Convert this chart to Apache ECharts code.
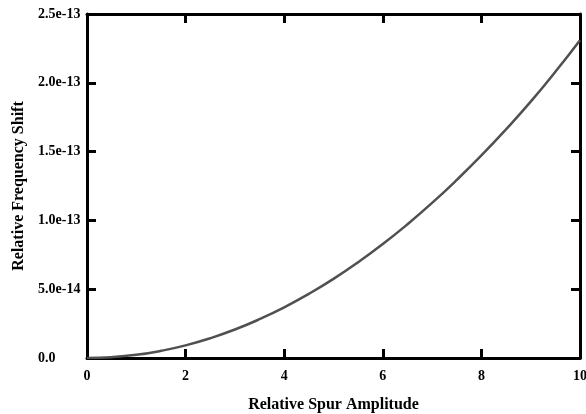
<!DOCTYPE html>
<html><head><meta charset="utf-8">
<script src="https://cdn.jsdelivr.net/npm/echarts@6/dist/echarts.min.js"></script>
<style>html,body{margin:0;padding:0;background:#fff}#c{width:586px;height:414px}</style>
</head><body><div id="c"></div>
<script>
var xValues = [0,0.5,1,1.5,2,2.5,3,3.5,4,4.5,5,5.5,6,6.5,7,7.5,8,8.5,9,9.5,10];
var yValues = [0,0.06e-14,0.23e-14,0.52e-14,0.92e-14,1.44e-14,2.07e-14,2.82e-14,3.68e-14,4.66e-14,5.75e-14,6.96e-14,8.28e-14,9.72e-14,11.27e-14,12.94e-14,14.72e-14,16.62e-14,18.63e-14,20.8e-14,23.1e-14];
var yTickLabels = {0:'0.0',5e-14:'5.0e-14',1e-13:'1.0e-13',1.5e-13:'1.5e-13',2e-13:'2.0e-13',2.5e-13:'2.5e-13'};
var xTitle = 'Relative Spur Amplitude';
var yTitle = 'Relative Frequency Shift';

var data = xValues.map(function(x,i){return [x,yValues[i]];});
var font = 'Liberation Serif';
function fmtY(v){
  var keys = Object.keys(yTickLabels);
  for (var i=0;i<keys.length;i++){ if (Math.abs(parseFloat(keys[i])-v) < 1e-17) return yTickLabels[keys[i]]; }
  return v.toExponential(1);
}
var axisLine = {show:true, onZero:false, lineStyle:{color:'#000', width:3}};
var tick = {show:true, inside:true, length:9, lineStyle:{color:'#000', width:3}};
var chart = echarts.init(document.getElementById('c'));
chart.setOption({
  animation:false,
  grid:{left:87, right:6, top:14, bottom:56, containLabel:false, outerBoundsMode:'none'},
  xAxis:[{
    type:'value', min:0, max:10, interval:2, position:'bottom',
    axisLine:axisLine, axisTick:tick, splitLine:{show:false},
    axisLabel:{color:'#000', fontFamily:font, fontWeight:'bold', fontSize:14, margin:11},
    name:xTitle, nameLocation:'middle', nameGap:39,
    nameTextStyle:{color:'#000', fontFamily:font, fontWeight:'bold', fontSize:16}
  },{
    type:'value', min:0, max:10, interval:2, position:'top',
    axisLine:axisLine, axisTick:tick, splitLine:{show:false}, axisLabel:{show:false}
  }],
  yAxis:[{
    type:'value', min:0, max:2.5e-13, interval:5e-14, position:'left',
    axisLine:axisLine, axisTick:tick, splitLine:{show:false},
    axisLabel:{color:'#000', fontFamily:font, fontWeight:'bold', fontSize:14, margin:49, align:'left', formatter:fmtY},
    name:yTitle, nameLocation:'middle', nameGap:60,
    nameTextStyle:{color:'#000', fontFamily:font, fontWeight:'bold', fontSize:16}
  },{
    type:'value', min:0, max:2.5e-13, interval:5e-14, position:'right',
    axisLine:axisLine, axisTick:tick, splitLine:{show:false}, axisLabel:{show:false}
  }],
  series:[{
    type:'line', data:data, smooth:true, showSymbol:false,
    lineStyle:{color:'#505050', width:2.5}
  }]
});
</script></body></html>
